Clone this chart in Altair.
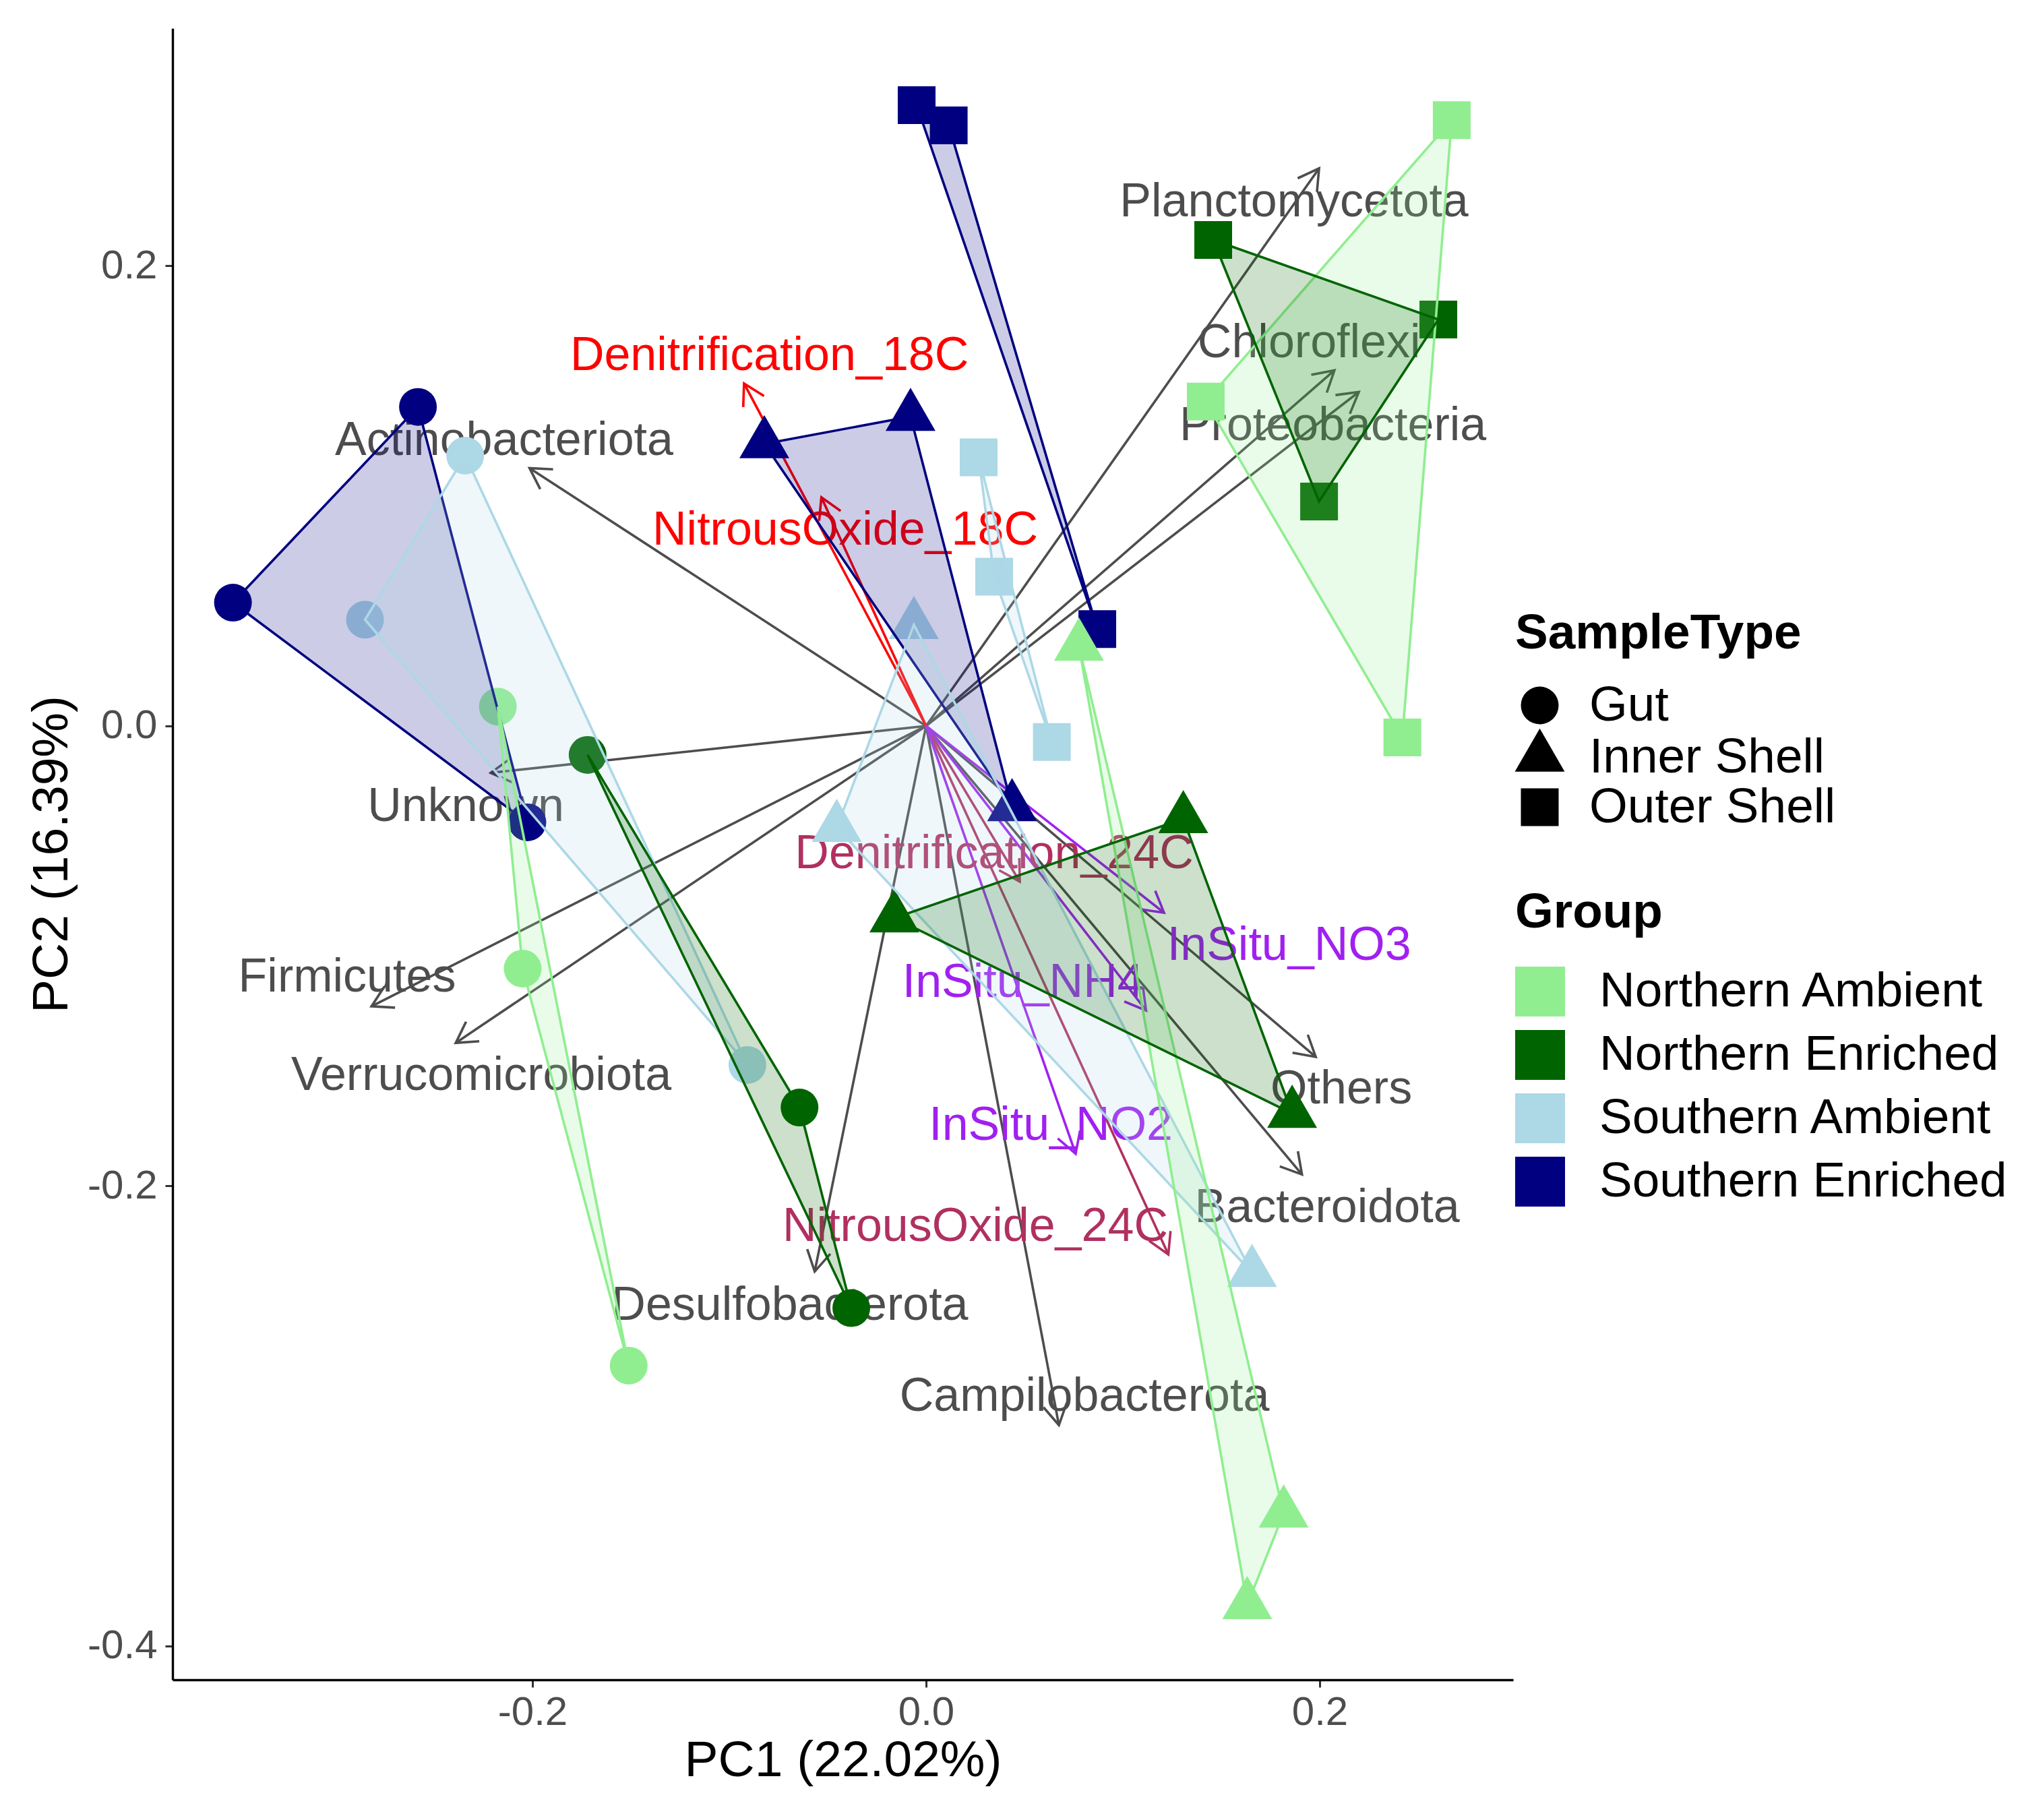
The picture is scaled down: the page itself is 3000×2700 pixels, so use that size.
import math
import altair as alt
import pandas as pd

# ---------------- data ----------------
groups = ["Northern Ambient", "Northern Enriched", "Southern Ambient", "Southern Enriched"]
group_colors = ["#90EE90", "#006400", "#ADD8E6", "#000080"]
sample_types = ["Gut", "Inner Shell", "Outer Shell"]

pt_group = (["Southern Enriched"] * 9 + ["Southern Ambient"] * 9 +
            ["Northern Ambient"] * 9 + ["Northern Enriched"] * 9)
pt_type = (["Gut"] * 3 + ["Inner Shell"] * 3 + ["Outer Shell"] * 3) * 4
pc1 = [
    -0.2582, -0.3522, -0.2026, -0.0079, -0.0822, 0.0437, -0.0048, 0.0115, 0.0870,
    -0.2342, -0.2851, -0.0908, -0.0062, -0.0454, 0.1656, 0.0267, 0.0346, 0.0639,
    -0.2176, -0.2050, -0.1511, 0.0777, 0.1817, 0.1632, 0.2671, 0.1421, 0.2420,
    -0.1720, -0.0643, -0.0380, 0.1307, -0.0161, 0.1860, 0.1459, 0.2603, 0.1997,
]
pc2 = [
    0.1387, 0.0536, -0.0419, 0.1345, 0.1226, -0.0352, 0.2699, 0.2611, 0.0421,
    0.1175, 0.0462, -0.1474, 0.0440, -0.0442, -0.2377, 0.1168, 0.0649, -0.0070,
    0.0084, -0.1055, -0.2781, 0.0346, -0.3423, -0.3821, 0.2634, 0.1410, -0.0050,
    -0.0126, -0.1659, -0.2531, -0.0404, -0.0835, -0.1685, 0.2113, 0.1767, 0.0976,
]

arrow_names = [
    "Planctomycetota", "Chloroflexi", "Proteobacteria", "Actinobacteriota",
    "Unknown", "Firmicutes", "Verrucomicrobiota", "Others", "Bacteroidota",
    "Desulfobacterota", "Campilobacterota",
    "Denitrification_18C", "NitrousOxide_18C",
    "Denitrification_24C", "NitrousOxide_24C",
    "InSitu_NO3", "InSitu_NH4", "InSitu_NO2",
]
arrow_pc1 = [0.1997, 0.2075, 0.2199, -0.2015, -0.2212, -0.2818, -0.2390, 0.1980, 0.1910,
             -0.0566, 0.0675, -0.0925, -0.0532, 0.0476, 0.1231, 0.1209, 0.1118, 0.0760]
arrow_pc2 = [0.2424, 0.1546, 0.1452, 0.1121, -0.0204, -0.1219, -0.1378, -0.1439, -0.1950,
             -0.2372, -0.3040, 0.1489, 0.0994, -0.0677, -0.2298, -0.0812, -0.1237, -0.1860]
label_pc1 = [0.1870, 0.1946, 0.2067, -0.2144, -0.2339, -0.2942, -0.2260, 0.2110, 0.2038,
             -0.0692, 0.0805, -0.0796, -0.0411, 0.0346, 0.0250, 0.1845, 0.0492, 0.0634]
label_pc2 = [0.2290, 0.1675, 0.1316, 0.1251, -0.0339, -0.1082, -0.1509, -0.1568, -0.2083,
             -0.2508, -0.2905, 0.1621, 0.0860, -0.0545, -0.2166, -0.0943, -0.1105, -0.1726]
arrow_kind = ["taxa"] * 11 + ["18C"] * 2 + ["24C"] * 2 + ["insitu"] * 3
kind_colors = {"taxa": "#4D4D4D", "18C": "#FF0000", "24C": "#B03060", "insitu": "#A020F0"}

# ---------------- layout ----------------
W, H = 1989, 2450
XDOM = [-0.3829, 0.2983]
YDOM = [-0.4147, 0.3033]
kx = W / (XDOM[1] - XDOM[0])
ky = H / (YDOM[1] - YDOM[0])
LW = 3.6

points = pd.DataFrame({"PC1": pc1, "PC2": pc2, "Group": pt_group, "SampleType": pt_type})

hull_rows = []
for (g, t), sub in points.groupby(["Group", "SampleType"], sort=False):
    for i, (_, r) in enumerate(sub.iterrows()):
        hull_rows.append({"PC1": r.PC1, "PC2": r.PC2, "Group": g,
                          "hid": f"{g}|{t}", "vi": i})
hulls = pd.DataFrame(hull_rows)

arrows = pd.DataFrame({
    "name": arrow_names, "PC1": arrow_pc1, "PC2": arrow_pc2,
    "LX": label_pc1, "LY": label_pc2,
    "col": [kind_colors[k] for k in arrow_kind],
})
arrows["X0"] = 0.0
arrows["Y0"] = 0.0
arrows["ang"] = [
    math.degrees(math.atan2(-y * ky, x * kx)) % 360 for x, y in zip(arrows.PC1, arrows.PC2)
]

FONT = "Liberation Sans"
TRI = "M0,-1.53L1.32,0.76L-1.32,0.76Z"
CHEVRON = "M-0.866,-0.5L0,0L-0.866,0.5"

xs = alt.Scale(domain=XDOM, nice=False, zero=False)
ys = alt.Scale(domain=YDOM, nice=False, zero=False)
minus_fix = "replace(format(datum.value, '.1f'), '\u2212', '-')"
x_axis = alt.Axis(title="PC1 (22.02%)", values=[-0.2, 0.0, 0.2], labelExpr=minus_fix)
y_axis = alt.Axis(title="PC2 (16.39%)", values=[-0.4, -0.2, 0.0, 0.2], labelExpr=minus_fix)

X = alt.X("PC1:Q", scale=xs, axis=x_axis)
Y = alt.Y("PC2:Q", scale=ys, axis=y_axis)

rules = alt.Chart(arrows).mark_rule(strokeWidth=LW).encode(
    x=alt.X("X0:Q", scale=xs, axis=x_axis),
    y=alt.Y("Y0:Q", scale=ys, axis=y_axis),
    x2="PC1:Q", y2="PC2:Q",
    color=alt.Color("col:N", scale=None),
)

heads = alt.Chart(arrows).mark_point(
    filled=False, shape=CHEVRON, size=4900, strokeWidth=LW, opacity=1
).encode(
    x=X, y=Y,
    angle=alt.Angle("ang:Q", scale=None),
    color=alt.Color("col:N", scale=None),
)

labels = alt.Chart(arrows).mark_text(
    font=FONT, fontSize=70, align="center", baseline="middle", dy=4
).encode(
    x=alt.X("LX:Q", scale=xs, axis=x_axis),
    y=alt.Y("LY:Q", scale=ys, axis=y_axis),
    text="name:N",
    color=alt.Color("col:N", scale=None),
)

pts = alt.Chart(points).mark_point(filled=True, size=3136, opacity=1, strokeWidth=0).encode(
    x=X, y=Y,
    color=alt.Color(
        "Group:N",
        scale=alt.Scale(domain=groups, range=group_colors),
        legend=alt.Legend(
            title="Group", orient="none", legendX=1992, legendY=1276,
            symbolType="square", symbolSize=5476, symbolStrokeWidth=0,
            labelOffset=51, rowPadding=20, titlePadding=43,
        ),
    ),
    shape=alt.Shape(
        "SampleType:N",
        scale=alt.Scale(domain=sample_types, range=["circle", TRI, "square"]),
        legend=alt.Legend(
            title="SampleType", orient="none", legendX=1992, legendY=862,
            symbolSize=3136, symbolFillColor="black", symbolStrokeColor="black",
            symbolStrokeWidth=0, labelOffset=37, rowPadding=-4, titlePadding=33,
        ),
    ),
)

hull_layer = alt.Chart(hulls).mark_line(
    interpolate="linear-closed", strokeWidth=LW, fillOpacity=0.2
).encode(
    x=X, y=Y,
    order="vi:Q",
    detail="hid:N",
    stroke=alt.Stroke("Group:N", scale=alt.Scale(domain=groups, range=group_colors), legend=None),
    fill=alt.Fill("Group:N", scale=alt.Scale(domain=groups, range=group_colors), legend=None),
)

chart = alt.layer(rules, heads, labels, pts, hull_layer).resolve_scale(
    color="independent", fill="independent", stroke="independent"
).properties(
    width=W, height=H,
    autosize=alt.AutoSizeParams(type="none"),
    padding={"left": 256, "top": 42, "right": 755, "bottom": 208},
    background="white",
).configure_view(strokeWidth=0).configure_axis(
    grid=False,
    labelFont=FONT, labelFontSize=60, labelColor="#4D4D4D",
    titleFont=FONT, titleFontSize=75, titleColor="black", titleFontWeight="normal",
    domainColor="black", domainWidth=3.4,
    tickColor="#333333", tickWidth=3, tickSize=11,
    labelPadding=8, titlePadding=5,
).configure_axisY(
    labelPadding=12, titlePadding=14,
).configure_legend(
    labelFont=FONT, labelFontSize=73, labelColor="black", labelLimit=2000,
    titleFont=FONT, titleFontSize=73, titleFontWeight="bold", titleColor="black",
    titleLimit=2000, padding=0,
)

chart.save("out.html", embed_options={"renderer": "svg", "actions": False})
